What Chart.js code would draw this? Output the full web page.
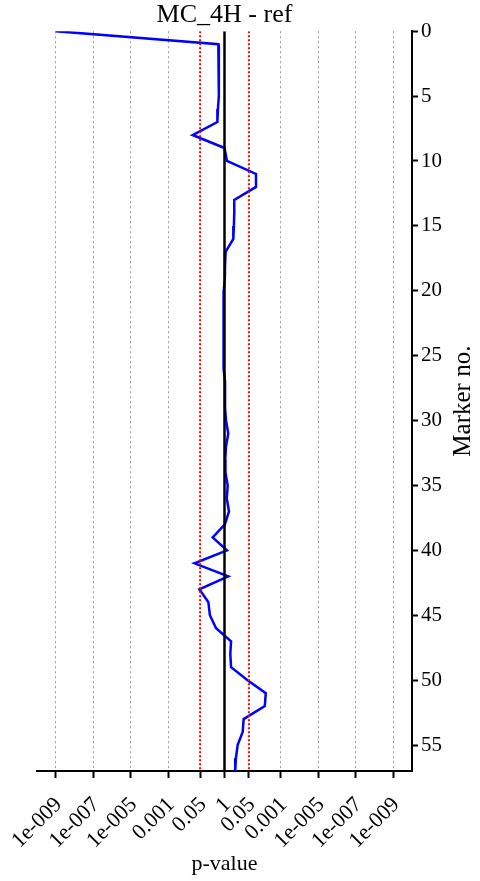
<!DOCTYPE html>
<html>
<head>
<meta charset="utf-8">
<title>MC_4H - ref</title>
<script src="https://cdn.jsdelivr.net/npm/chart.js@4/dist/chart.umd.min.js"></script>
<style>
  html, body { margin: 0; padding: 0; background: #fff; }
  #chart { display: block; }
</style>
</head>
<body>
<canvas id="chart" width="480" height="881"></canvas>
<script>
// Datos: número de marcador y -log10(p) con signo (negativo = izquierda)
const markerNo = [
  0, 1, 2, 3, 4, 5, 6, 7, 8, 9,
  10, 11, 12, 13, 14, 15, 16, 17, 18, 19,
  20, 21, 22, 23, 24, 25, 26, 27, 28, 29,
  30, 31, 32, 33, 34, 35, 36, 37, 38, 39,
  40, 41, 42, 43, 44, 45, 46, 47, 48, 49,
  50, 51, 52, 53, 54, 55, 56, 57
];
const signedLogP = [
  -9, -0.33, -0.31, -0.30, -0.30, -0.30, -0.35, -0.38, -1.70, 0.00,
  0.13, 1.68, 1.68, 0.52, 0.52, 0.50, 0.47, 0.06, 0.03, 0.02,
  -0.04, -0.05, -0.05, -0.05, -0.05, -0.05, -0.04, 0.03, 0.03, 0.03,
  0.08, 0.20, 0.08, 0.04, 0.05, 0.17, 0.12, 0.24, 0.02, -0.63,
  0.13, -1.60, 0.20, -1.34, -0.86, -0.78, -0.45, 0.35, 0.31, 0.35,
  1.23, 2.20, 2.15, 1.02, 0.97, 0.70, 0.61, 0.57
];

// Umbrales: p = 0.05 a cada lado y la línea central (p = 1)
const thresholdRed = [-1.301, 1.301];
const centerLine = [0];
const markerRange = [0, 57];

// Ejes
const xTickValues = [-9, -7, -5, -3, -1.301, 0, 1.301, 3, 5, 7, 9];
const xTickLabels = ['1e-009', '1e-007', '1e-005', '0.001', '0.05', '1', '0.05', '0.001', '1e-005', '1e-007', '1e-009'];
const yTickValues = [0, 5, 10, 15, 20, 25, 30, 35, 40, 45, 50, 55];

const FONT = '"Liberation Serif", "Times New Roman", serif';

Chart.defaults.font.family = FONT;
Chart.defaults.color = '#000';

function verticalLine(x) {
  return markerRange.map(y => ({ x: x, y: y }));
}

const datasets = [];
centerLine.forEach(x => datasets.push({
  data: verticalLine(x),
  borderColor: '#000',
  borderWidth: 2.5,
  pointRadius: 0,
  showLine: true,
  order: 1
}));
thresholdRed.forEach(x => datasets.push({
  data: verticalLine(x),
  borderColor: '#ff0000',
  borderWidth: 2,
  borderDash: [2, 2],
  pointRadius: 0,
  showLine: true,
  order: 1
}));
datasets.push({
  data: markerNo.map((m, i) => ({ x: signedLogP[i], y: m })),
  borderColor: '#0000ff',
  borderWidth: 2.5,
  pointRadius: 0,
  showLine: true,
  tension: 0,
  order: 2
});

// Título del eje Y (rotado -90°, a la derecha)
const yTitlePlugin = {
  id: 'yTitle',
  afterDraw(chart) {
    const { ctx, chartArea } = chart;
    const ys = chart.scales.y;
    ctx.save();
    ctx.translate(ys.right - 17, (chartArea.top + chartArea.bottom) / 2);
    ctx.rotate(-Math.PI / 2);
    ctx.font = '25px ' + FONT;
    ctx.fillStyle = '#000';
    ctx.textAlign = 'center';
    ctx.textBaseline = 'middle';
    ctx.fillText('Marker no.', 0, 0);
    ctx.restore();
  }
};

new Chart(document.getElementById('chart'), {
  type: 'scatter',
  data: { datasets: datasets },
  plugins: [yTitlePlugin],
  options: {
    responsive: false,
    animation: false,
    layout: { padding: { left: 37, top: 0, right: 0, bottom: 0 } },
    plugins: {
      legend: { display: false },
      tooltip: { enabled: false },
      title: {
        display: true,
        fullSize: false,
        text: 'MC_4H - ref',
        color: '#000',
        font: { size: 26, weight: 'normal', family: FONT },
        padding: { top: 0, bottom: 0 }
      }
    },
    scales: {
      x: {
        type: 'linear',
        min: -10,
        max: 10,
        afterBuildTicks: axis => {
          axis.ticks = xTickValues.map(v => ({ value: v }));
        },
        afterFit: scale => {
          scale.height = 110;
          scale.paddingLeft = 0;
          scale.paddingRight = 0;
        },
        ticks: {
          autoSkip: false,
          maxRotation: 45,
          minRotation: 45,
          padding: 14,
          labelOffset: 3,
          font: { size: 22 },
          callback: function (value, index) {
            return xTickLabels[index];
          }
        },
        grid: {
          color: ctx => {
            const v = ctx.tick ? ctx.tick.value : 0;
            return Math.abs(v) >= 3 ? '#999' : 'rgba(0,0,0,0)';
          },
          lineWidth: 1,
          drawTicks: true,
          tickLength: 7,
          tickWidth: 2,
          tickColor: '#000',
          tickBorderDash: []
        },
        border: { display: true, color: '#000', width: 2, dash: [2, 3] },
        title: {
          display: true,
          text: 'p-value',
          color: '#000',
          font: { size: 22 },
          padding: { top: 0, bottom: 4 }
        }
      },
      y: {
        type: 'linear',
        position: 'right',
        reverse: true,
        min: 0,
        max: 57,
        afterBuildTicks: axis => {
          axis.ticks = yTickValues.map(v => ({ value: v }));
        },
        afterFit: scale => {
          scale.width = 68;
        },
        ticks: {
          padding: 3,
          font: { size: 21 }
        },
        grid: {
          drawOnChartArea: false,
          drawTicks: true,
          tickLength: 6,
          tickWidth: 2,
          color: '#000',
          tickColor: '#000'
        },
        border: { display: true, color: '#000', width: 2 }
      }
    }
  }
});
</script>
</body>
</html>
